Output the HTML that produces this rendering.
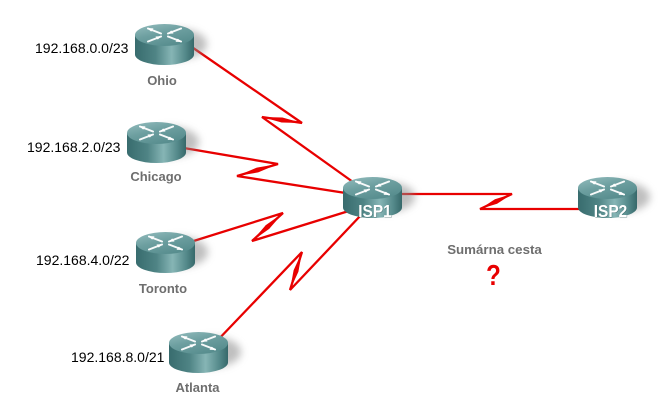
<!DOCTYPE html>
<html>
<head>
<meta charset="utf-8">
<style>
  html, body { margin:0; padding:0; background:#ffffff; }
  body { width:665px; height:408px; overflow:hidden; }
  svg { display:block; }
  .ip { font-family:"Liberation Sans", Arial, sans-serif; font-size:14px; fill:#000; }
  .nm { font-family:"Liberation Sans", Arial, sans-serif; font-size:13px; font-weight:bold; fill:#6e6e6e; }
  .isp { font-family:"Liberation Sans", Arial, sans-serif; font-size:18px; font-weight:bold; fill:#ffffff; }
</style>
</head>
<body>
<svg width="665" height="408" viewBox="0 0 665 408" xmlns="http://www.w3.org/2000/svg">
  <defs>
    <linearGradient id="topG" x1="0" y1="0" x2="0.6" y2="1">
      <stop offset="0" stop-color="#94bdbe"/>
      <stop offset="0.5" stop-color="#6d9fa0"/>
      <stop offset="1" stop-color="#578d8e"/>
    </linearGradient>
    <linearGradient id="bodyG" x1="0" y1="0" x2="1" y2="0">
      <stop offset="0" stop-color="#386c6e"/>
      <stop offset="0.35" stop-color="#4f8485"/>
      <stop offset="0.62" stop-color="#86b5b5"/>
      <stop offset="0.85" stop-color="#558a8b"/>
      <stop offset="1" stop-color="#36686a"/>
    </linearGradient>
    <filter id="blur" x="-50%" y="-50%" width="200%" height="200%">
      <feGaussianBlur stdDeviation="4"/>
    </filter>
    <g id="router">
      <ellipse cx="44" cy="20" rx="28" ry="15" fill="#8a8a8a" opacity="0.55" filter="url(#blur)"/>
      <path d="M0,11 L0,30.5 A29.5,10.5 0 0 0 59,30.5 L59,11 Z" fill="url(#bodyG)"/>
      <ellipse cx="29.5" cy="11" rx="29.5" ry="11" fill="url(#topG)"/>
      <g stroke="#ffffff" stroke-width="2" stroke-linecap="round" fill="none" opacity="0.95">
        <line x1="13" y1="4.5" x2="26" y2="9.5"/>
        <line x1="33" y1="12.5" x2="46" y2="17.5"/>
        <line x1="46" y1="4.5" x2="33" y2="9.5"/>
        <line x1="26" y1="12.5" x2="13" y2="17.5"/>
      </g>
      <g fill="#ffffff">
        <polygon points="12,4 18.5,4.4 16.2,7.6"/>
        <polygon points="47,18 40.5,17.8 42.8,14.6"/>
        <polygon points="33,9.8 38.5,9.5 36.2,6.4"/>
        <polygon points="26,12.2 20.5,12.5 22.8,15.6"/>
      </g>
    </g>
  </defs>

  <!-- connectors -->
  <g stroke="#e80000" stroke-width="2.3" fill="none" stroke-linejoin="miter">
    <polyline points="186,43 302,123 262,117 360,187"/>
    <polyline points="178,147 278,164 237,176 352,194"/>
    <polyline points="184,244 283,213 252,241 352,210"/>
    <polyline points="214,344 302,252 290,290 362,214"/>
    <polyline points="395,194 512,194 480,209 590,209"/>
  </g>
  <g fill="#e80000">
    <polygon points="302,123 282.4,117.5 262,117 281.6,122.5"/>
    <polygon points="278,164 258.2,172.4 237,176 256.8,167.6"/>
    <polygon points="283,213 269.2,228.9 252,241 265.8,225.1"/>
    <polygon points="302,252 298.4,271.75 290,290 293.6,270.25"/>
    <polygon points="512,194 497.1,203.8 480,209 494.9,199.2"/>
  </g>

  <!-- routers -->
  <use href="#router" x="135" y="24"/>
  <use href="#router" x="127" y="122"/>
  <use href="#router" x="136" y="232"/>
  <use href="#router" x="169" y="332"/>
  <use href="#router" x="343" y="177"/>
  <use href="#router" x="578" y="177"/>

  <!-- IP labels -->
  <text class="ip" x="35" y="53">192.168.0.0/23</text>
  <text class="ip" x="27" y="152">192.168.2.0/23</text>
  <text class="ip" x="36" y="265">192.168.4.0/22</text>
  <text class="ip" x="71" y="362">192.168.8.0/21</text>

  <!-- router names -->
  <text class="nm" x="162" y="85" text-anchor="middle">Ohio</text>
  <text class="nm" x="156" y="181" text-anchor="middle">Chicago</text>
  <text class="nm" x="163" y="293" text-anchor="middle">Toronto</text>
  <text class="nm" x="197.5" y="392" text-anchor="middle">Atlanta</text>

  <!-- ISP labels -->
  <g transform="translate(375,217) scale(0.86,1)">
    <text class="isp" x="0.6" y="0.6" text-anchor="middle" style="fill:#2f5a5b" opacity="0.6">ISP1</text>
    <text class="isp" x="0" y="0" text-anchor="middle">ISP1</text>
  </g>
  <g transform="translate(610.5,217) scale(0.86,1)">
    <text class="isp" x="0.6" y="0.6" text-anchor="middle" style="fill:#2f5a5b" opacity="0.6">ISP2</text>
    <text class="isp" x="0" y="0" text-anchor="middle">ISP2</text>
  </g>

  <!-- summary route -->
  <text class="nm" x="494.5" y="254" text-anchor="middle" style="font-size:13.3px">Sumárna cesta</text>
  <g transform="translate(493.5,285) scale(1,1.2)">
    <text x="0" y="0" text-anchor="middle" style="font-family:'Liberation Sans', Arial, sans-serif; font-size:24px; font-weight:bold; fill:#e80000;">?</text>
  </g>
</svg>
</body>
</html>
